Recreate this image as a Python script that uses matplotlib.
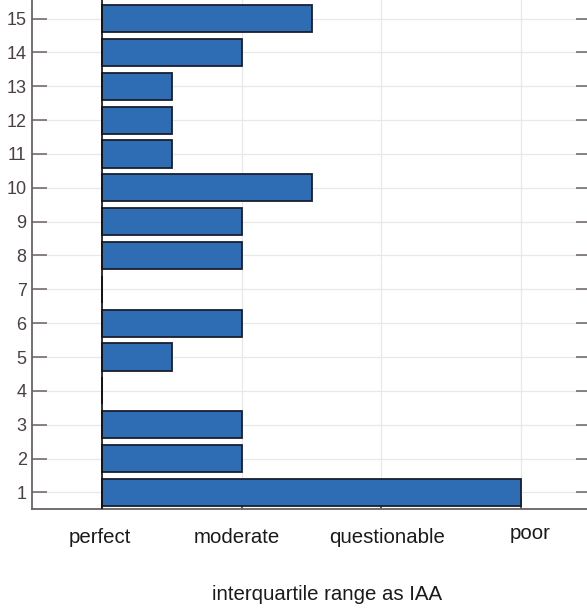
import matplotlib.pyplot as plt
from matplotlib.transforms import offset_copy

# IAA class reached by each item (0 = perfect ... 3 = poor)
items = list(range(1, 16))
iaa_level = [3, 1, 1, 0, 0.5, 1, 0, 1, 1, 1.5, 0.5, 0.5, 0.5, 1, 1.5]
class_names = ["perfect", "moderate", "questionable", "poor"]

plt.rcParams["font.family"] = ["Liberation Sans", "DejaVu Sans"]

W, H = 587, 609
fig = plt.figure(figsize=(W / 100, H / 100), dpi=100)
left, right, bottom, top = 32.2, 591.0, 509.3, 0.0
ax = fig.add_axes([left / W, (H - bottom) / H, (right - left) / W, (bottom - top) / H])

ax.barh(items, iaa_level, height=0.8, color="#2e6db4", edgecolor="#1a1f2e",
        linewidth=1.3, zorder=3)
ax.axvline(0, color="#111111", linewidth=1.2, zorder=4)

ax.set_xlim(-0.5, 3.5)
ax.set_ylim(0.5, 15.55)
ax.set_yticks(items)
ax.set_xticks(range(len(class_names)))
ax.set_xticklabels([])

ax.grid(True, color="#e8e8e8", linewidth=0.9, zorder=0)
ax.set_axisbelow(True)

spine_col = "#6a6262"
for side in ["left", "bottom"]:
    ax.spines[side].set_color(spine_col)
    ax.spines[side].set_linewidth(1.3)
ax.spines["top"].set_visible(False)
ax.spines["right"].set_visible(False)

ax.tick_params(axis="y", direction="in", length=11, width=1.1, color=spine_col,
               labelsize=13, labelcolor="#4a4040", pad=4, right=True)
ax.tick_params(axis="x", direction="in", length=9, width=1.1, color="#333333")

# class names under the axis, nudged a little like the exported figure
dx = [-2, -5, 6, 9]
base_px = [543, 543, 543, 539]
for i, name in enumerate(class_names):
    tr = offset_copy(ax.get_xaxis_transform(), fig=fig, x=dx[i] * 0.72,
                     y=-(base_px[i] - bottom) * 0.72, units="points")
    ax.text(i, 0, name, transform=tr, ha="center", va="baseline",
            fontsize=14.7, color="#1a1a1a")

ax.set_xlabel("interquartile range as IAA", fontsize=14.7, color="#1a1a1a")
ax.xaxis.set_label_coords((327.5 - left) / (right - left), -(595 - bottom) / (bottom - top),
                          transform=ax.transAxes)
ax.xaxis.label.set_va("center")

fig.savefig("out.png", dpi=100)
